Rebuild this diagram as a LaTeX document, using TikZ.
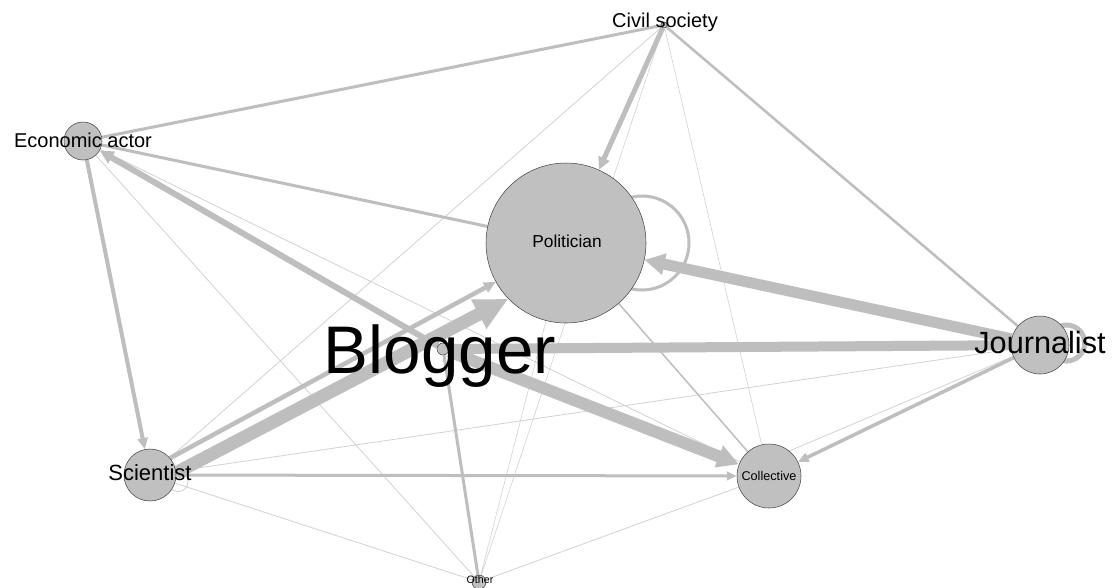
\documentclass[tikz,border=0pt]{standalone}
\usepackage{fontspec}
\setmainfont{Liberation Sans}
\usetikzlibrary{arrows.meta}
\pgfdeclarelayer{bg}
\pgfsetlayers{bg,main}
\definecolor{edgegray}{RGB}{190,190,190}
\definecolor{faintgray}{RGB}{210,210,210}
\definecolor{nodegray}{RGB}{192,192,192}
\definecolor{nodeline}{RGB}{70,70,70}
\begin{document}
\begin{tikzpicture}[x=0.75pt,y=-0.75pt,
  nd/.style={circle, fill=nodegray, draw=nodeline, line width=0.4pt, inner sep=0pt, minimum size=#1},
  lbl/.style={anchor=base, inner sep=0pt, text=black},
  edg/.style={draw=edgegray, line width=#1*0.75pt},
  faint/.style={draw=faintgray, line width=#1*0.75pt},
  arr/.style={edg=#1, -{Triangle[length=4.5pt 1.3, width=3pt 1.5]}},
  bigarr/.style={edg=#1, -{Triangle[length=25pt, width=23pt]}},
]
\useasboundingbox (0,0) rectangle (1112,587);

% nodes
\node[nd=4.5pt]  (civ) at (664,25) {};
\node[nd=28.5pt] (eco) at (83,141) {};
\node[nd=120pt]  (pol) at (566,243) {};
\node[nd=9pt]    (blo) at (443,349) {};
\node[nd=43.5pt] (jou) at (1040,345) {};
\node[nd=39pt]   (sci) at (150,475) {};
\node[nd=48pt]   (col) at (769,476) {};
\node[nd=10.5pt] (oth) at (479,582) {};

% labels
\node[lbl, font=\fontsize{15}{15}\selectfont]     (civT) at (665,27)  {Civil society};
\node[lbl, font=\fontsize{15}{15}\selectfont]     (ecoT) at (83,147)  {Economic actor};
\node[lbl, font=\fontsize{13}{13}\selectfont]     (polT) at (567,247) {Politician};
\node[lbl, font=\fontsize{50.5}{50.5}\selectfont] (bloT) at (440,373) {Blogger};
\node[lbl, font=\fontsize{23}{23}\selectfont]     (jouT) at (1040,353) {Journalist};
\node[lbl, font=\fontsize{16.5}{16.5}\selectfont] (sciT) at (150,480) {Scientist};
\node[lbl, font=\fontsize{9.5}{9.5}\selectfont]   (colT) at (769,480) {Collective};
\node[lbl, font=\fontsize{8}{8}\selectfont]       (othT) at (480,583) {Other};

\begin{pgfonlayer}{bg}
  \fill[white] (0,0) rectangle (1112,587);
  % faint edges
  \draw[faint=0.6] (civ) -- (oth) (civ) -- (col) (pol) -- (oth);
  \draw[faint=0.8] (civ) -- (sci) (eco) -- (col) (eco) -- (oth) (sci) -- (oth)
                   (oth) -- (col) (sci) -- (jou) (jou) -- (col.51);
  % medium edges
  \draw[edg=1.5] (pol) -- (col);
  \draw[edg=2.5] (civ) -- (jou);
  \draw[edg=3] (civ) -- (eco) (pol) -- (eco) (oth) -- (blo);
  % self loops
  \draw[edg=3] ([xshift=57pt]pol.center) circle[radius=35.25pt];
  \draw[edg=5] ([shift={(20pt,1.5pt)}]jou.center) circle[radius=13.5pt];
  \draw[faint=0.9] ([shift={(21pt,-5pt)}]sci.center) circle[radius=7.5pt];
  % arrows
  \draw[arr=3]   (sci) -- (col);
  \draw[arr=3.5] (jou) -- (col.26);
  \draw[arr=4]   (eco) -- (sci);
  \draw[arr=4.5] (sci.40) -- (pol.209);
  \draw[arr=5]   (civ) -- (pol);
  \draw[arr=6]   (blo) -- (eco);
  \draw[edg=10]  (jou) -- (blo);
  \draw[arr=11]  (jou) -- (pol);
  \draw[arr=12]  (blo) -- (col);
  \draw[bigarr=13] (sci.5) -- (pol.224);
\end{pgfonlayer}
\end{tikzpicture}
\end{document}
